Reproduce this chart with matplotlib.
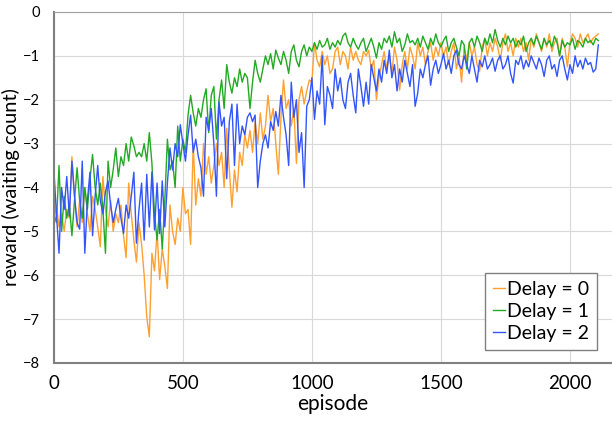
import numpy as np
import matplotlib.pyplot as plt

plt.rcParams['font.family'] = ['Lato', 'DejaVu Sans']

# episodes, sampled every 10
episodes = np.arange(0, 2120, 10)

delay0 = [
    -4.8, -4.4, -4.9, -4.6, -5.0, -4.5, -4.7, -3.3, -4.2, -4.9,
    -4.3, -4.8, -4.0, -4.6, -5.0, -4.2, -4.5, -4.9, -5.35, -3.75,
    -4.5, -4.9, -4.3, -5.0, -4.6, -4.8, -4.4, -5.1, -5.6, -3.9,
    -4.6, -5.2, -5.7, -4.8, -5.3, -6.0, -6.95, -7.4, -5.5, -5.9,
    -5.0, -6.1, -5.4, -5.8, -6.3, -4.4, -5.0, -5.3, -4.7, -5.0,
    -4.0, -4.6, -4.5, -5.3, -3.0, -4.4, -3.8, -4.2, -3.0, -3.7,
    -3.3, -3.9, -3.5, -3.0, -3.5, -3.2, -4.0, -2.65, -3.6, -4.45,
    -3.6, -4.1, -3.2, -3.5, -2.8, -3.1, -2.7, -3.2, -2.5, -3.0,
    -2.3, -2.9, -2.6, -1.9, -2.5, -2.2, -3.0, -3.7, -2.4, -1.55,
    -2.2, -2.0, -2.6, -2.2, -3.45, -2.0, -1.7, -2.1, -1.8, -1.55,
    -1.6, -0.7, -1.1, -1.25, -0.9, -1.2, -1.0, -1.4, -1.3, -0.9,
    -0.8, -1.2, -0.9, -1.0, -1.3, -0.8, -1.1, -0.9, -1.1, -1.2,
    -0.9, -1.0, -0.87, -1.3, -1.1, -2.0, -1.5, -1.2, -0.9, -1.3,
    -1.0, -1.4, -0.8, -1.1, -1.78, -1.2, -0.9, -1.3, -0.8, -1.0,
    -1.3, -0.7, -1.0, -0.8, -1.2, -0.9, -0.7, -1.1, -0.8, -1.0,
    -0.7, -1.0, -0.8, -1.2, -0.9, -0.7, -1.3, -1.0, -1.6, -0.8,
    -1.1, -0.7, -1.0, -0.8, -1.2, -1.35, -0.8, -0.6, -1.0, -0.7,
    -0.9, -0.6, -0.8, -1.1, -0.7, -0.5, -0.9, -0.7, -1.0, -0.6,
    -0.8, -0.6, -0.9, -0.7, -1.1, -0.6, -0.8, -0.5, -0.7, -0.9,
    -0.6, -0.8, -0.5, -0.9, -0.7, -0.6, -1.0, -0.6, -0.8, -1.25,
    -0.7, -0.5, -0.6, -0.8, -0.5, -0.7, -0.6, -0.5, -0.7, -0.6,
    -0.55, -0.5,
]

delay1 = [
    -4.6, -4.8, -3.5, -5.0, -4.2, -4.7, -4.4, -5.1, -4.3, -3.55,
    -4.3, -4.7, -4.0, -4.5, -3.8, -3.25, -4.0, -4.4, -3.9, -4.5,
    -5.5, -3.4, -4.0, -3.6, -3.1, -3.75, -3.3, -3.5, -3.0, -3.4,
    -2.85, -3.05, -3.3, -3.2, -3.3, -3.0, -3.4, -2.75, -3.45, -4.6,
    -5.2, -4.5, -5.4, -4.3, -2.9, -3.6, -3.4, -4.0, -2.6, -3.4,
    -2.9, -3.2, -2.35, -1.9, -2.3, -2.6, -2.2, -2.4, -2.0, -1.75,
    -2.75, -1.9, -1.7, -2.9, -2.0, -1.55, -2.2, -1.2, -1.6, -1.85,
    -1.5, -1.7, -1.3, -1.6, -1.4, -1.5, -2.2, -1.6, -1.1, -1.4,
    -1.6, -1.3, -1.0, -1.2, -0.95, -1.3, -0.87, -1.05, -1.2, -0.9,
    -1.1, -1.4, -0.9, -0.75, -1.1, -1.25, -0.9, -0.75, -1.0, -0.8,
    -0.9, -0.7, -0.85, -0.65, -0.8, -0.75, -0.6, -0.85, -0.7, -0.8,
    -0.65, -0.75, -0.55, -0.48, -0.7, -0.8, -0.6, -0.75, -0.85, -0.7,
    -0.6, -0.9, -0.75, -0.6, -0.8, -1.05, -0.7, -0.85, -0.6, -0.7,
    -0.55, -0.8, -0.45, -0.7, -0.6, -0.9, -0.75, -0.5, -0.7, -0.65,
    -0.75, -0.6, -0.8, -0.55, -0.7, -0.85, -0.6, -0.75, -0.5, -0.7,
    -0.8, -0.65, -0.55, -0.9, -0.7, -0.6, -0.8, -1.0, -0.65, -0.75,
    -1.3, -0.7, -0.6, -0.8, -0.55, -0.7, -0.9, -0.6, -0.75, -0.5,
    -0.7, -0.4, -0.65, -0.8, -0.6, -0.75, -0.55, -0.7, -0.6, -0.8,
    -0.65, -0.75, -0.55, -0.9, -0.7, -0.6, -0.75, -0.55, -0.7, -0.85,
    -0.6, -0.75, -0.65, -0.8, -0.55, -0.7, -1.0, -0.65, -0.8, -0.7,
    -0.75, -0.6, -0.85, -0.65, -0.7, -0.8, -0.6, -0.7, -0.65, -0.75,
    -0.6, -0.65,
]

delay2 = [
    -3.6, -4.6, -5.5, -4.0, -4.5, -3.75, -4.65, -3.4, -4.2, -4.8,
    -4.95, -3.4, -5.5, -4.3, -3.65, -5.1, -4.2, -3.5, -4.3, -4.6,
    -4.1, -3.85, -4.4, -4.8, -4.5, -4.25, -4.7, -5.05, -4.4, -4.7,
    -4.2, -3.65, -5.27, -4.5, -3.9, -5.2, -3.7, -4.9, -3.65, -4.97,
    -3.9, -5.05, -3.85, -4.9, -3.9, -3.1, -3.6, -3.0, -3.3, -2.57,
    -3.0, -3.4, -2.8, -2.35, -3.2, -2.9, -3.3, -3.55, -4.2, -2.4,
    -2.7, -2.2, -3.0, -4.2, -2.05, -2.6, -2.4, -3.8, -2.5, -2.1,
    -3.5, -2.1, -3.0, -2.6, -2.8, -2.4, -2.3, -2.5, -2.35, -4.0,
    -3.4, -3.0, -2.8, -3.1, -2.5, -2.7, -2.27, -2.6, -1.9, -2.4,
    -2.8, -3.5, -1.6, -2.4, -2.0, -3.2, -2.75, -4.0, -2.15, -2.0,
    -1.5, -2.45, -1.8, -2.1, -1.0, -2.57, -1.7, -1.9, -2.2, -1.3,
    -1.8, -1.5, -2.0, -2.2, -1.6, -1.4, -1.9, -2.3, -1.3, -1.7,
    -2.15, -1.6, -2.1, -1.2, -1.5, -1.8, -1.3, -1.6, -1.1, -1.4,
    -0.87, -1.5, -1.2, -1.8, -1.3, -1.6, -1.1, -1.4, -1.7, -1.2,
    -2.15, -1.85, -1.3, -1.5, -1.2, -1.0, -1.67, -1.3, -1.1, -1.4,
    -1.2, -0.95, -1.3, -1.1, -1.4, -1.0, -0.87, -1.2, -1.3, -1.0,
    -1.2, -1.4, -1.0, -1.3, -1.6, -1.1, -1.25, -1.0, -1.3, -1.2,
    -1.05, -1.35, -1.1, -1.0, -1.3, -1.2, -1.0, -1.4, -1.62, -1.1,
    -1.2, -1.0, -1.3, -1.1, -1.25, -1.0, -1.15, -1.3, -1.05, -1.2,
    -1.47, -1.1, -1.0, -1.3, -1.2, -1.47, -1.1, -1.0, -1.3, -1.55,
    -1.2, -1.4, -1.0, -1.25, -1.1, -1.3, -1.05, -1.2, -1.15, -1.37,
    -1.3, -0.75,
]

series = [("Delay = 0", delay0, "#FFA030"),
          ("Delay = 1", delay1, "#22AA22"),
          ("Delay = 2", delay2, "#3355FF")]

fig = plt.figure(figsize=(6.12, 4.28), dpi=100)
ax = fig.add_axes([0.088, 0.152, 0.912, 0.82])

for name, vals, col in series:
    ax.plot(episodes, vals, color=col, lw=1.0, label=name)

ax.set_xlim(0, 2163)
ax.set_ylim(-8, 0)
ax.set_xticks([0, 500, 1000, 1500, 2000])
ax.set_yticks(range(-8, 1))
ax.grid(True, color="#d9d9d9", lw=0.8)
ax.set_axisbelow(True)

for s in ["left", "bottom"]:
    ax.spines[s].set_color("#808080")
    ax.spines[s].set_linewidth(1.5)
ax.spines["top"].set_color("#a0a0a0")
ax.spines["right"].set_visible(False)
ax.tick_params(length=0)
ax.tick_params(axis="x", labelsize=13.5, pad=9)
ax.tick_params(axis="y", labelsize=10.5, pad=10)

ax.set_xlabel("episode", fontsize=15, labelpad=1)
ax.set_ylabel("reward (waiting count)", fontsize=14.5)
ax.yaxis.set_label_coords(-0.06, 0.5)

leg = ax.legend(loc="lower right", bbox_to_anchor=(0.99, 0.01), fontsize=14,
                handlelength=0.6, handletextpad=0.1, borderpad=0.4,
                labelspacing=0.25, fancybox=False, framealpha=1)
leg.get_frame().set_edgecolor("#808080")
leg.get_frame().set_linewidth(1.0)

plt.savefig("out.png", dpi=100)
